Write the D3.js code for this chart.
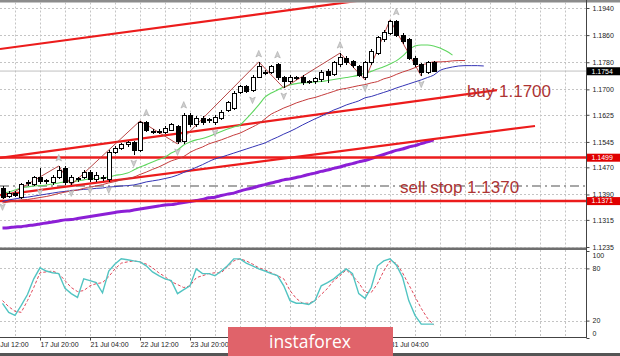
<!DOCTYPE html>
<html><head><meta charset="utf-8">
<script src="https://cdn.jsdelivr.net/npm/d3@7/dist/d3.min.js"></script>
<style>body{margin:0;background:#fff;overflow:hidden}svg{display:block}</style>
</head><body><svg id="c" width="620" height="356"></svg>
<script>
// ---------- DATA ----------
const opens=[1.1409,1.1385,1.1394,1.1382,1.1421,1.1418,1.1439,1.1427,1.1424,1.1441,1.1468,1.1424,1.1436,1.1441,1.1456,1.1433,1.1441,1.1433,1.1515,1.1527,1.1536,1.1542,1.1521,1.1601,1.1577,1.1574,1.1574,1.1580,1.1589,1.1545,1.1624,1.1595,1.1615,1.1607,1.1601,1.1615,1.1639,1.1645,1.1692,1.1707,1.1698,1.1736,1.1748,1.1751,1.1772,1.1734,1.1722,1.1734,1.1736,1.1722,1.1722,1.1728,1.1754,1.1745,1.1772,1.1792,1.1781,1.1766,1.1736,1.1778,1.1807,1.1846,1.1866,1.1899,1.1860,1.1846,1.1792,1.1772,1.1751,1.1778];
const highs=[1.1415,1.1400,1.1400,1.1424,1.1433,1.1444,1.1468,1.1436,1.1447,1.1474,1.1474,1.1447,1.1441,1.1462,1.1462,1.1456,1.1447,1.1521,1.1533,1.1542,1.1548,1.1548,1.1607,1.1607,1.1583,1.1583,1.1592,1.1601,1.1595,1.1630,1.1630,1.1621,1.1621,1.1615,1.1624,1.1639,1.1666,1.1695,1.1713,1.1713,1.1742,1.1781,1.1757,1.1772,1.1778,1.1739,1.1742,1.1739,1.1742,1.1728,1.1736,1.1757,1.1760,1.1784,1.1807,1.1798,1.1787,1.1772,1.1784,1.1819,1.1857,1.1875,1.1905,1.1905,1.1866,1.1852,1.1798,1.1778,1.1784,1.1784];
const lows=[1.1377,1.1380,1.1382,1.1377,1.1415,1.1415,1.1421,1.1421,1.1418,1.1436,1.1418,1.1418,1.1427,1.1436,1.1427,1.1427,1.1430,1.1427,1.1509,1.1521,1.1530,1.1506,1.1515,1.1574,1.1568,1.1568,1.1568,1.1577,1.1539,1.1539,1.1589,1.1589,1.1595,1.1601,1.1595,1.1610,1.1633,1.1639,1.1686,1.1689,1.1692,1.1734,1.1742,1.1745,1.1728,1.1704,1.1716,1.1728,1.1713,1.1716,1.1716,1.1722,1.1719,1.1739,1.1766,1.1772,1.1763,1.1736,1.1728,1.1772,1.1801,1.1840,1.1860,1.1854,1.1834,1.1787,1.1766,1.1739,1.1745,1.1751];
const closes=[1.1382,1.1394,1.1388,1.1418,1.1424,1.1439,1.1427,1.1430,1.1441,1.1462,1.1424,1.1441,1.1433,1.1456,1.1433,1.1447,1.1439,1.1515,1.1527,1.1536,1.1542,1.1521,1.1601,1.1580,1.1574,1.1577,1.1586,1.1595,1.1545,1.1624,1.1595,1.1615,1.1601,1.1610,1.1618,1.1633,1.1660,1.1689,1.1707,1.1695,1.1736,1.1766,1.1751,1.1766,1.1734,1.1722,1.1736,1.1733,1.1719,1.1721,1.1731,1.1751,1.1742,1.1778,1.1795,1.1778,1.1769,1.1742,1.1778,1.1813,1.1852,1.1869,1.1899,1.1860,1.1840,1.1792,1.1772,1.1751,1.1778,1.1754];

// Alligator lines (shifted forward, so they run past the last bar)
const lips=[1.1394,1.1397,1.1403,1.1409,1.1412,1.1415,1.1416,1.1418,1.1421,1.1424,1.1427,1.1428,1.1430,1.1433,1.1436,1.1437,1.1439,1.1441,1.1446,1.1449,1.1453,1.1462,1.1471,1.1478,1.1486,1.1493,1.1500,1.1512,1.1521,1.1536,1.1545,1.1551,1.1555,1.1561,1.1568,1.1576,1.1583,1.1589,1.1595,1.1613,1.1633,1.1654,1.1677,1.1689,1.1698,1.1707,1.1713,1.1717,1.1719,1.1720,1.1722,1.1723,1.1726,1.1729,1.1732,1.1735,1.1738,1.1742,1.1748,1.1753,1.1760,1.1767,1.1775,1.1784,1.1798,1.1816,1.1828,1.1831,1.1831,1.1828,1.1822,1.1813,1.1801];
const teeth=[1.1365,1.1368,1.1371,1.1374,1.1375,1.1378,1.1381,1.1384,1.1388,1.1393,1.1397,1.1400,1.1403,1.1408,1.1412,1.1415,1.1419,1.1424,1.1428,1.1433,1.1437,1.1441,1.1449,1.1456,1.1464,1.1471,1.1480,1.1489,1.1495,1.1502,1.1514,1.1523,1.1530,1.1539,1.1545,1.1551,1.1558,1.1565,1.1571,1.1580,1.1589,1.1599,1.1613,1.1627,1.1636,1.1645,1.1652,1.1660,1.1666,1.1672,1.1676,1.1682,1.1688,1.1694,1.1700,1.1703,1.1707,1.1711,1.1714,1.1719,1.1723,1.1731,1.1736,1.1744,1.1751,1.1757,1.1764,1.1772,1.1776,1.1781,1.1781,1.1782,1.1784,1.1785,1.1785];
const jaw=[1.1369,1.1374,1.1377,1.1380,1.1382,1.1385,1.1388,1.1391,1.1394,1.1397,1.1399,1.1402,1.1403,1.1405,1.1406,1.1408,1.1409,1.1412,1.1413,1.1415,1.1416,1.1418,1.1422,1.1427,1.1430,1.1433,1.1437,1.1441,1.1447,1.1455,1.1462,1.1470,1.1478,1.1487,1.1495,1.1500,1.1506,1.1512,1.1518,1.1524,1.1530,1.1536,1.1542,1.1551,1.1559,1.1568,1.1576,1.1585,1.1595,1.1604,1.1613,1.1621,1.1630,1.1639,1.1646,1.1654,1.1660,1.1666,1.1675,1.1679,1.1685,1.1691,1.1697,1.1704,1.1710,1.1716,1.1722,1.1728,1.1735,1.1742,1.1756,1.1762,1.1766,1.1769,1.1770,1.1770,1.1770,1.1769];
const slowMA=[1.1291,1.1292,1.1294,1.1295,1.1298,1.1300,1.1303,1.1306,1.1309,1.1312,1.1315,1.1316,1.1319,1.1322,1.1325,1.1328,1.1331,1.1334,1.1337,1.1340,1.1341,1.1344,1.1347,1.1350,1.1353,1.1356,1.1359,1.1360,1.1363,1.1366,1.1369,1.1372,1.1375,1.1380,1.1382,1.1387,1.1391,1.1394,1.1400,1.1405,1.1409,1.1415,1.1419,1.1424,1.1428,1.1433,1.1436,1.1440,1.1444,1.1449,1.1453,1.1458,1.1462,1.1467,1.1471,1.1477,1.1481,1.1486,1.1490,1.1496,1.1502,1.1508,1.1514,1.1520,1.1524,1.1530,1.1534,1.1540,1.1545,1.1551];

// ZigZag turning points [bar, price]
const zigzagBars=[0,9,11,22,28,41,45,54,58,62,67];
const zigzagPrices=[1.1377,1.1474,1.1418,1.1607,1.1539,1.1781,1.1704,1.1807,1.1728,1.1905,1.1739];
// Fractals (bar indices)
const fractalUp=[9,23,29,41,44,54,63];
const fractalDown=[0,6,11,14,17,21,28,34,40,45,58,67];

// Stochastic
const stochK=[39.8,29.5,26,37.5,50,68,80.7,77,75,74,57,51,46.6,68,66,63.6,52,77,85,91,90,88.6,87.5,83,76,71.6,68,66,51,55.7,60,79.5,74,74,71.6,77,83,91,91,86,83,79.5,77,74,71.6,60,43,40,40,38.6,43,60,63.6,68,74,79.5,74,51,45.5,58,83,88.6,91,84,70,43,26,16,16,16];
const stochD=[43,36,30.7,29.5,43,58,75,76,77,74,66,58,53.4,54.5,60,62.5,63.6,70.5,79.5,86,87.5,88.6,87.5,85,80.7,75,70.5,64.8,61.4,58,60,69.3,71.6,74,75,75,81.8,88.6,91,88.6,85,80.7,78.4,75,71.6,68,54.5,45.5,40,40,43,50,57,66,71.6,78.4,71.6,63.6,52.3,52.3,62.5,77,88.6,86,75,61.4,47.7,34,22.7,14.8];
const stochTicks=[100,80,20,0];
const stochLevels=[80,20];

// Trend lines [bar, price] endpoints
const upperLine=[[-0.4,1.1819],[60,1.1969]];
const midLine=[[-0.4,1.1498],[79.1,1.1698]];
const lowerLine=[[-0.4,1.1388],[85.2,1.1592]];
const levelPrices=[1.1499,1.1371];
const sellStopLevel=1.1415;
const bidPrice=1.1754;

// Axis (labels hidden behind the watermark are not shown in the reference)
const priceTicks=[1.1940,1.1860,1.1780,1.1700,1.1625,1.1545,1.1470,1.1390,1.1315,1.1235];
const timeTickBars=[-2,6,14,22,30,62];
const timeLabels=["16 Jul 12:00","17 Jul 20:00","21 Jul 04:00","22 Jul 12:00","23 Jul 20:00","31 Jul 04:00"];
const gridBars=d3.range(2,91,4);

const annotations=[{text:"buy 1.1700",bar:74.3,price:1.1677},{text:"sell stop 1.1370",bar:63.6,price:1.1394}];
const markedPrices=[{p:1.1754,bg:"#000"},{p:1.1499,bg:"#e00000"},{p:1.1371,bg:"#e00000"}];

// ---------- DRAW ----------
const svg=d3.select("#c");
const R=586, mainTop=2.5, mainBot=247.5, subTop=250, subBot=337.5;
const x=d3.scaleLinear().domain([0,1]).range([2.5,8.75]);
const y=d3.scaleLinear().domain([1.1235,1.1940]).range([247,8]);
const ys=d3.scaleLinear().domain([0,100]).range([338,251]);
const axisFont='"Liberation Sans",Arial,sans-serif';

const defs=svg.append("defs");
defs.append("clipPath").attr("id","cm").append("rect").attr("x",0).attr("y",mainTop).attr("width",R).attr("height",mainBot-mainTop);
defs.append("clipPath").attr("id","cs").append("rect").attr("x",0).attr("y",subTop).attr("width",R).attr("height",subBot-subTop);

svg.append("rect").attr("width",620).attr("height",356).attr("fill","#fff");

const gm=svg.append("g").attr("clip-path","url(#cm)");
const gs=svg.append("g").attr("clip-path","url(#cs)");

// grids
gm.selectAll(".hg").data(priceTicks).join("line").attr("x1",0).attr("x2",R)
  .attr("y1",d=>Math.round(y(d))+0.5).attr("y2",d=>Math.round(y(d))+0.5)
  .attr("stroke","#c4c4c4").attr("stroke-dasharray","2,2");
gm.selectAll(".vg").data(gridBars).join("line").attr("y1",mainTop).attr("y2",mainBot)
  .attr("x1",d=>Math.round(x(d))+0.5).attr("x2",d=>Math.round(x(d))+0.5)
  .attr("stroke","#c4c4c4").attr("stroke-dasharray","2,2");
gs.selectAll(".hg").data(stochLevels).join("line").attr("x1",0).attr("x2",R)
  .attr("y1",d=>Math.round(ys(d))+0.5).attr("y2",d=>Math.round(ys(d))+0.5)
  .attr("stroke","#c4c4c4").attr("stroke-dasharray","2,2");
gs.selectAll(".vg").data(gridBars).join("line").attr("y1",subTop).attr("y2",subBot)
  .attr("x1",d=>Math.round(x(d))+0.5).attr("x2",d=>Math.round(x(d))+0.5)
  .attr("stroke","#c4c4c4").attr("stroke-dasharray","2,2");

// bid line
gm.append("line").attr("x1",0).attr("x2",R).attr("y1",y(bidPrice)).attr("y2",y(bidPrice)).attr("stroke","#c0c0c0").attr("stroke-width",1);
// sell stop dash-dot
gm.append("line").attr("x1",0).attr("x2",R).attr("y1",y(sellStopLevel)).attr("y2",y(sellStopLevel))
  .attr("stroke","#8a8a8a").attr("stroke-width",1.3).attr("stroke-dasharray","9,4,2,4");

const lineGen=d3.line().x((d,i)=>x(i)).y(d=>y(d)).curve(d3.curveMonotoneX);

// purple slow MA
gm.append("path").attr("d",lineGen(slowMA)).attr("fill","none").attr("stroke","#8c1fd6").attr("stroke-width",3);

// trend lines
[upperLine,midLine,lowerLine].forEach(l=>{
  gm.append("line").attr("x1",x(l[0][0])).attr("y1",y(l[0][1])).attr("x2",x(l[1][0])).attr("y2",y(l[1][1]))
    .attr("stroke","#ec1c1c").attr("stroke-width",2.2);
});
gm.selectAll(".lvl").data(levelPrices).join("line").attr("x1",0).attr("x2",R)
  .attr("y1",d=>y(d)).attr("y2",d=>y(d)).attr("stroke","#ec1c1c").attr("stroke-width",2.5);

// alligator
gm.append("path").attr("d",lineGen(jaw)).attr("fill","none").attr("stroke","#3535b5").attr("stroke-width",1);
gm.append("path").attr("d",lineGen(teeth)).attr("fill","none").attr("stroke","#c43c3c").attr("stroke-width",1);
gm.append("path").attr("d",lineGen(lips)).attr("fill","none").attr("stroke","#5fd65f").attr("stroke-width",1.1);

// zigzag
gm.append("path").attr("d",d3.line().x(d=>x(d[0])).y(d=>y(d[1]))(zigzagBars.map((b,i)=>[b,zigzagPrices[i]])))
  .attr("fill","none").attr("stroke","#b84848").attr("stroke-width",1);

// candles
const idx=d3.range(opens.length);
const cg=gm.append("g").attr("shape-rendering","crispEdges");
cg.selectAll(".w").data(idx).join("line")
  .attr("x1",i=>Math.round(x(i))+0.5).attr("x2",i=>Math.round(x(i))+0.5)
  .attr("y1",i=>y(highs[i])).attr("y2",i=>y(lows[i])).attr("stroke","#000");
cg.selectAll(".b").data(idx).join("rect")
  .attr("x",i=>Math.round(x(i))-1.5).attr("width",4)
  .attr("y",i=>y(Math.max(opens[i],closes[i])))
  .attr("height",i=>Math.max(1,Math.abs(y(opens[i])-y(closes[i]))))
  .attr("fill",i=>closes[i]>=opens[i]?"#fff":"#000").attr("stroke","#000").attr("stroke-width",1);

// fractals
const fg=gm.append("g").attr("fill","#cfcfcf").attr("stroke","#a8a8a8").attr("stroke-width",0.6);
fractalUp.forEach(i=>{const cx=x(i),cy=y(highs[i])-8;
  fg.append("path").attr("d",`M${cx},${cy-3.5}L${cx+2.8},${cy+3}L${cx},${cy+1.5}L${cx-2.8},${cy+3}Z`);});
fractalDown.forEach(i=>{const cx=x(i),cy=y(lows[i])+8;
  fg.append("path").attr("d",`M${cx},${cy+3.5}L${cx+2.8},${cy-3}L${cx},${cy-1.5}L${cx-2.8},${cy-3}Z`);});

// annotations
svg.selectAll(".ann").data(annotations).join("text")
  .attr("x",d=>x(d.bar)).attr("y",d=>y(d.price)).text(d=>d.text)
  .attr("font-family",'"Liberation Sans",Arial,sans-serif').attr("font-size",17).attr("fill","#ad3434");

// stochastic
const sl=d3.line().x((d,i)=>x(i)).y(d=>ys(d));
gs.append("path").attr("d",sl(stochD)).attr("fill","none").attr("stroke","#e0485a").attr("stroke-width",1).attr("stroke-dasharray","3,2");
gs.append("path").attr("d",sl(stochK)).attr("fill","none").attr("stroke","#52c4c2").attr("stroke-width",1.4);

// frames
svg.append("rect").attr("x",0).attr("y",0).attr("width",620).attr("height",2.5).attr("fill","#8c8c8c");
svg.append("rect").attr("x",0).attr("y",247.5).attr("width",R+1).attr("height",2.5).attr("fill","#6e6e6e");
svg.append("line").attr("x1",R+0.5).attr("x2",R+0.5).attr("y1",0).attr("y2",338).attr("stroke","#444");
svg.append("line").attr("x1",0).attr("x2",R+1).attr("y1",337.5).attr("y2",337.5).attr("stroke","#444");
svg.append("rect").attr("x",0).attr("y",353).attr("width",620).attr("height",3).attr("fill","#555");

// price axis
const pa=svg.append("g").attr("transform",`translate(${R+0.5},0)`)
  .call(d3.axisRight(y).tickValues(priceTicks).tickFormat(d3.format(".4f")).tickSize(3).tickPadding(3));
pa.select(".domain").remove();
pa.selectAll("text").attr("font-family",axisFont).attr("font-size",7).attr("fill","#222");
pa.selectAll("line").attr("stroke","#444");

// marked price boxes
const mg=svg.append("g");
markedPrices.forEach(m=>{
  mg.append("rect").attr("x",R+1).attr("y",y(m.p)-3.8).attr("width",33).attr("height",8).attr("fill",m.bg);
  mg.append("text").attr("x",R+5.5).attr("y",y(m.p)+2.6).text(d3.format(".4f")(m.p))
    .attr("font-family",axisFont).attr("font-size",7).attr("fill","#fff");
});

// stochastic axis
const sa=svg.append("g").attr("transform",`translate(${R+0.5},0)`)
  .call(d3.axisRight(ys).tickValues(stochTicks).tickSize(3).tickPadding(3));
sa.select(".domain").remove();
sa.selectAll("text").attr("font-family",axisFont).attr("font-size",7).attr("fill","#222")
  .attr("dy",d=>d===100?"0.95em":d===0?"-0.3em":"0.32em");
sa.selectAll("line").attr("stroke","#444");

// time axis
const ta=svg.append("g").attr("transform",`translate(0,337.5)`)
  .call(d3.axisBottom(x).tickValues(timeTickBars).tickFormat((d,i)=>timeLabels[i]).tickSize(3).tickPadding(2));
ta.select(".domain").remove();
ta.selectAll("text").attr("font-family",axisFont).attr("font-size",7).attr("fill","#222").attr("text-anchor","start");
ta.selectAll("line").attr("stroke","#444");

// watermark
svg.append("rect").attr("x",228).attr("y",327).attr("width",165).attr("height",29).attr("fill","#e0636a");
svg.append("text").attr("x",310).attr("y",348).attr("text-anchor","middle").text("instaforex")
  .attr("font-family",'"Open Sans",sans-serif').attr("font-size",17.5).attr("fill","#fff");
</script></body></html>
